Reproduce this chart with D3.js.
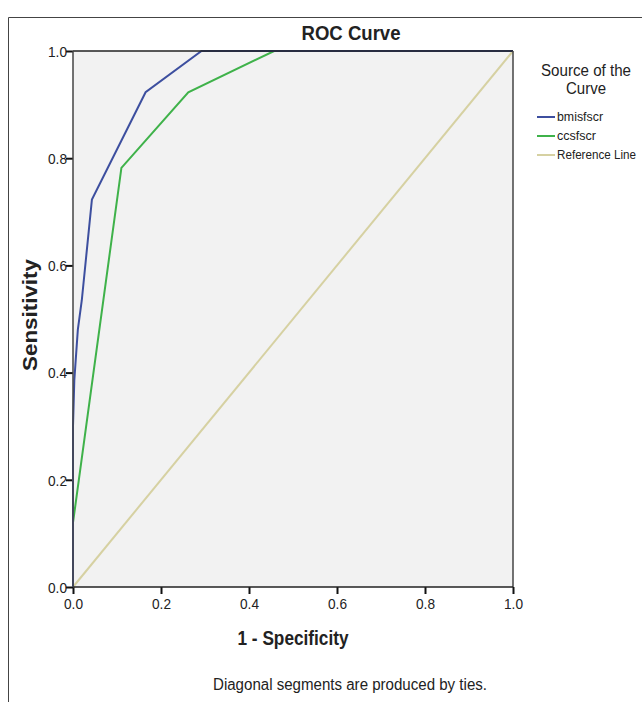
<!DOCTYPE html>
<html>
<head>
<meta charset="utf-8">
<script src="https://cdn.jsdelivr.net/npm/d3@7"></script>
<style>
  body { margin: 0; background: #fff; }
  text { font-family: "Liberation Sans", Arial, sans-serif; fill: #222; }
</style>
</head>
<body>
<div id="chart"></div>
<script>
// data
var ticks = [0, 0.2, 0.4, 0.6, 0.8, 1.0]

var bmiFpr  = [0, 0, 0.003, 0.011, 0.02, 0.043, 0.165, 0.292, 1]
var bmiSens = [0, 0.30, 0.386, 0.48, 0.535, 0.723, 0.923, 1, 1]

var ccsFpr  = [0, 0, 0.11, 0.262, 0.457, 1]
var ccsSens = [0, 0.12, 0.782, 0.923, 1, 1]

var refFpr  = [0, 1]
var refSens = [0, 1]

var seriesNames = ["bmisfscr", "ccsfscr", "Reference Line"]
var seriesColors = ["#3d4f9f", "#3fb24a", "#d6d1a2"]
var legendWidths = [46, 39, 79]

var svgWidth = 642
var svgHeight = 702

var margin = { top: 51, left: 73, right: 129, bottom: 115 }
var width = svgWidth - margin.left - margin.right
var height = svgHeight - margin.top - margin.bottom

var svg = d3.select("#chart")
  .append("svg")
  .attr("width", svgWidth)
  .attr("height", svgHeight)

// narrow text helper, the original font is condensed
function narrow(sel, w) {
  sel.attr("textLength", w).attr("lengthAdjust", "spacingAndGlyphs")
}

// outer frame (clipped at right/bottom)
svg.append("path")
  .attr("d", "M8.5," + svgHeight + "V17.5H" + svgWidth)
  .attr("fill", "none")
  .attr("stroke", "#444")
  .attr("stroke-width", 1)

var g = svg.append("g")
  .attr("transform", `translate(${margin.left}, ${margin.top})`)

var xScale = d3.scaleLinear().domain([0, 1]).range([0, width])
var yScale = d3.scaleLinear().domain([0, 1]).range([height, 0])

// plot background
g.append("rect")
  .attr("width", width)
  .attr("height", height)
  .attr("fill", "#f2f2f2")

// axes
var bottomAxis = d3.axisBottom(xScale).tickValues(ticks).tickFormat(d3.format(".1f")).tickSize(7).tickSizeOuter(0)
var leftAxis = d3.axisLeft(yScale).tickValues(ticks).tickFormat(d3.format(".1f")).tickSize(7).tickSizeOuter(0)

var xAxisG = g.append("g")
  .attr("transform", `translate(0, ${height})`)
  .call(bottomAxis)
var yAxisG = g.append("g")
  .call(leftAxis)

;[xAxisG, yAxisG].forEach(function(a) {
  a.attr("font-size", null).attr("font-family", null)
  a.select(".domain").remove()
  a.selectAll(".tick line").attr("stroke", "#111").attr("stroke-width", 2)
  a.selectAll(".tick text")
    .style("font-size", "15px")
    .attr("fill", "#333")
    .call(narrow, 19)
})
xAxisG.selectAll(".tick text").attr("y", 10).attr("dy", "0.8em")
yAxisG.selectAll(".tick text").attr("x", -6).attr("dy", "0.35em")

var line = d3.line()
  .x(d => xScale(d[0]))
  .y(d => yScale(d[1]))

var curves = [
  d3.zip(refFpr, refSens),
  d3.zip(ccsFpr, ccsSens),
  d3.zip(bmiFpr, bmiSens)
]
var curveColors = [seriesColors[2], seriesColors[1], seriesColors[0]]

g.selectAll(".curve")
  .data(curves)
  .enter()
  .append("path")
  .attr("class", "curve")
  .attr("d", line)
  .attr("fill", "none")
  .attr("stroke", (d, i) => curveColors[i])
  .attr("stroke-width", 2)

// plot frame
g.append("line").attr("x1", 0).attr("x2", width).attr("y1", 0).attr("y2", 0).attr("stroke", "#222").attr("stroke-width", 1.5)
g.append("line").attr("x1", width).attr("x2", width).attr("y1", 0).attr("y2", height).attr("stroke", "#444").attr("stroke-width", 1.5)
g.append("line").attr("x1", 0).attr("x2", width).attr("y1", height).attr("y2", height).attr("stroke", "#222").attr("stroke-width", 1.5)
g.append("line").attr("x1", 0).attr("x2", 0).attr("y1", 0).attr("y2", height).attr("stroke", "#444").attr("stroke-width", 1.5)

// titles
svg.append("text")
  .attr("x", 351)
  .attr("y", 40)
  .attr("text-anchor", "middle")
  .style("font-size", "20px")
  .style("font-weight", "bold")
  .text("ROC Curve")
  .call(narrow, 99)

svg.append("text")
  .attr("x", margin.left + width / 2)
  .attr("y", 645)
  .attr("text-anchor", "middle")
  .style("font-size", "20px")
  .style("font-weight", "bold")
  .text("1 - Specificity")
  .call(narrow, 111)

svg.append("text")
  .attr("transform", `translate(37, ${margin.top + height / 2 - 4}) rotate(-90)`)
  .attr("text-anchor", "middle")
  .style("font-size", "20px")
  .style("font-weight", "bold")
  .text("Sensitivity")
  .call(narrow, 112)

svg.append("text")
  .attr("x", 350)
  .attr("y", 690)
  .attr("text-anchor", "middle")
  .style("font-size", "16px")
  .attr("fill", "#333")
  .text("Diagonal segments are produced by ties.")
  .call(narrow, 274)

// legend
svg.append("text")
  .attr("x", 586)
  .attr("y", 76)
  .attr("text-anchor", "middle")
  .style("font-size", "16px")
  .attr("fill", "#333")
  .text("Source of the")
  .call(narrow, 90)
svg.append("text")
  .attr("x", 586)
  .attr("y", 94)
  .attr("text-anchor", "middle")
  .style("font-size", "16px")
  .attr("fill", "#333")
  .text("Curve")
  .call(narrow, 40)

var legend = svg.append("g")
  .selectAll("g")
  .data(seriesNames)
  .enter()
  .append("g")
  .attr("transform", (d, i) => `translate(537, ${117 + i * 19})`)

legend.append("line")
  .attr("x1", 0).attr("x2", 18)
  .attr("y1", 0).attr("y2", 0)
  .attr("stroke", (d, i) => seriesColors[i])
  .attr("stroke-width", 2)

legend.append("text")
  .attr("x", 20)
  .attr("dy", "0.35em")
  .style("font-size", "12.5px")
  .attr("fill", "#333")
  .attr("textLength", (d, i) => legendWidths[i])
  .attr("lengthAdjust", "spacingAndGlyphs")
  .text(d => d)
</script>
</body>
</html>
